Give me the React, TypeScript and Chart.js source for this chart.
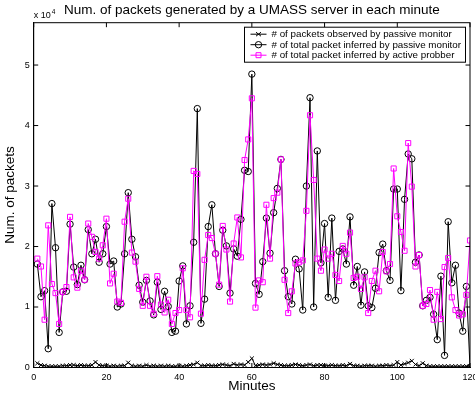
import React, { useEffect, useRef } from "react";
import { Chart, registerables } from "chart.js";

Chart.register(...registerables);

const TITLE = "Num. of packets generated by a UMASS server in each minute";
const X_TITLE = "Minutes";
const Y_TITLE = "Num. of packets";
const LABELS = [
  "# of packets observed by passive monitor",
  "# of total packet inferred by passive monitor",
  "# of total packet inferred by active probber",
];

const minutes = [
  1, 2, 3, 4, 5, 6, 7, 8, 9, 10, 11, 12, 13, 14, 15, 16, 17, 18, 19, 20,
  21, 22, 23, 24, 25, 26, 27, 28, 29, 30, 31, 32, 33, 34, 35, 36, 37, 38, 39, 40,
  41, 42, 43, 44, 45, 46, 47, 48, 49, 50, 51, 52, 53, 54, 55, 56, 57, 58, 59, 60,
  61, 62, 63, 64, 65, 66, 67, 68, 69, 70, 71, 72, 73, 74, 75, 76, 77, 78, 79, 80,
  81, 82, 83, 84, 85, 86, 87, 88, 89, 90, 91, 92, 93, 94, 95, 96, 97, 98, 99, 100,
  101, 102, 103, 104, 105, 106, 107, 108, 109, 110, 111, 112, 113, 114, 115, 116, 117, 118, 119, 120,
];

// values in units of 10^4 packets
const observedPassive = [
  0.07, 0.04, 0.03, 0.02, 0.02, 0.02, 0.02, 0.03, 0.03, 0.04, 0.04, 0.03, 0.04, 0.03, 0.03, 0.04, 0.09, 0.04, 0.03, 0.03,
  0.02, 0.03, 0.02, 0.03, 0.03, 0.08, 0.03, 0.02, 0.03, 0.02, 0.04, 0.02, 0.03, 0.02, 0.03, 0.02, 0.03, 0.02, 0.02, 0.03,
  0.02, 0.03, 0.04, 0.05, 0.08, 0.03, 0.03, 0.04, 0.03, 0.03, 0.04, 0.05, 0.04, 0.03, 0.06, 0.04, 0.05, 0.04, 0.09, 0.15,
  0.03, 0.04, 0.05, 0.04, 0.05, 0.07, 0.05, 0.04, 0.03, 0.03, 0.04, 0.05, 0.04, 0.03, 0.04, 0.05, 0.03, 0.04, 0.04, 0.03,
  0.03, 0.04, 0.03, 0.03, 0.04, 0.03, 0.06, 0.03, 0.03, 0.02, 0.03, 0.03, 0.03, 0.02, 0.03, 0.03, 0.04, 0.03, 0.04, 0.09,
  0.04, 0.06, 0.08, 0.11, 0.05, 0.03, 0.07, 0.03, 0.02, 0.02, 0.02, 0.02, 0.02, 0.02, 0.02, 0.02, 0.02, 0.02, 0.02, 0.01,
];

const inferredPassive = [
  1.71, 1.17, 1.27, 0.31, 2.71, 1.98, 0.58, 1.25, 1.26, 2.37, 1.66, 1.37, 1.69, 1.45, 2.28, 1.88, 2.12, 1.74, 1.88, 2.33,
  1.71, 1.76, 1.0, 1.05, 1.88, 2.89, 2.12, 1.83, 1.36, 1.08, 1.44, 1.1, 0.87, 1.41, 0.96, 1.26, 1.01, 0.58, 0.6, 1.43,
  1.68, 0.72, 1.02, 2.07, 4.28, 0.73, 1.13, 2.33, 2.69, 1.88, 1.34, 2.27, 2.01, 1.23, 1.96, 1.84, 2.45, 3.26, 3.24, 4.85,
  1.39, 1.21, 1.75, 2.47, 1.89, 2.56, 2.96, 3.44, 1.6, 1.17, 1.05, 1.79, 1.63, 0.95, 3.0, 4.46, 1.0, 3.58, 1.73, 2.38,
  1.16, 2.47, 1.11, 1.92, 1.96, 1.71, 2.49, 1.36, 1.67, 1.03, 1.58, 1.02, 0.99, 1.31, 1.9, 2.04, 1.6, 1.44, 2.95, 2.95,
  1.27, 2.78, 3.53, 3.45, 1.74, 1.86, 1.02, 1.11, 1.16, 0.88, 0.46, 1.51, 0.2, 2.41, 1.4, 1.69, 0.9, 0.6, 1.34, 0.0,
];

const inferredActive = [
  1.8, 1.67, 0.79, 2.35, 1.38, 1.23, 0.72, 1.25, 1.33, 2.49, 1.49, 1.32, 1.6, 1.45, 2.38, 2.16, 1.91, 1.8, 2.02, 2.46,
  1.39, 1.55, 1.09, 1.07, 2.41, 2.79, 1.9, 1.75, 1.3, 1.02, 1.5, 1.02, 0.89, 1.51, 1.04, 0.91, 1.12, 0.72, 0.9, 0.95,
  1.64, 0.95, 0.83, 3.25, 3.2, 0.89, 1.78, 2.19, 2.14, 1.88, 1.37, 2.34, 1.95, 1.09, 2.05, 2.48, 1.82, 3.43, 3.77, 4.45,
  0.99, 1.44, 1.41, 2.69, 1.8, 2.8, 2.89, 3.44, 1.45, 0.9, 1.26, 1.72, 1.74, 1.77, 2.59, 4.17, 3.1, 1.8, 1.6, 1.95,
  1.8, 1.88, 1.53, 1.43, 2.01, 1.88, 2.23, 1.48, 1.5, 1.3, 1.49, 0.9, 1.43, 1.6, 1.26, 1.91, 1.59, 1.71, 3.29, 2.5,
  2.24, 1.93, 3.71, 2.99, 1.67, 1.86, 1.02, 1.05, 1.28, 0.79, 1.25, 0.8, 1.66, 1.81, 1.16, 0.95, 0.86, 0.88, 1.2, 2.1,
];

const xTicks = [0, 20, 40, 60, 80, 100, 120];
const yTicks = [0, 1, 2, 3, 4, 5];

const FONT = "'Liberation Sans', Arial, Helvetica, sans-serif";
const MAGENTA = "#ff00ff";

function drawMarker(ctx: CanvasRenderingContext2D, style: string, x: number, y: number, color: string) {
  ctx.save();
  ctx.strokeStyle = color;
  ctx.lineWidth = 1;
  ctx.beginPath();
  if (style === "circle") {
    ctx.arc(x, y, 3.2, 0, Math.PI * 2);
  } else if (style === "rect") {
    ctx.rect(x - 2.5, y - 2.5, 5, 5);
  } else {
    ctx.moveTo(x - 2.5, y - 2);
    ctx.lineTo(x + 2.5, y + 2);
    ctx.moveTo(x - 2.5, y + 2);
    ctx.lineTo(x + 2.5, y - 2);
  }
  ctx.stroke();
  ctx.restore();
}

const matlabPlugin = {
  id: "matlabFrame",
  afterDatasetsDraw(chart: any) {
    const { ctx, chartArea, scales } = chart;
    const { left, right, top, bottom } = chartArea;
    ctx.save();
    ctx.strokeStyle = "#000";
    ctx.lineWidth = 1;
    ctx.strokeRect(left, top, right - left, bottom - top);
    const tl = 4.5;
    ctx.beginPath();
    scales.x.ticks.forEach((t: any) => {
      const px = scales.x.getPixelForValue(t.value);
      ctx.moveTo(px, bottom);
      ctx.lineTo(px, bottom - tl);
      ctx.moveTo(px, top);
      ctx.lineTo(px, top + tl);
    });
    scales.y.ticks.forEach((t: any) => {
      const py = scales.y.getPixelForValue(t.value);
      ctx.moveTo(left, py);
      ctx.lineTo(left + tl, py);
      ctx.moveTo(right, py);
      ctx.lineTo(right - tl, py);
    });
    ctx.stroke();

    ctx.fillStyle = "#000";
    ctx.textBaseline = "alphabetic";
    ctx.textAlign = "left";
    ctx.font = `9px ${FONT}`;
    ctx.fillText("x 10", left, top - 4.5);
    const w = ctx.measureText("x 10").width;
    ctx.font = `6.5px ${FONT}`;
    ctx.fillText("4", left + w + 1, top - 8.5);

    const bw = 221;
    const bh = 35;
    const bx = right - 4.5 - bw;
    const by = top + 4.5;
    ctx.fillStyle = "#fff";
    ctx.fillRect(bx, by, bw, bh);
    ctx.strokeRect(bx, by, bw, bh);
    const styles = ["crossRot", "circle", "rect"];
    chart.data.datasets.forEach((ds: any, i: number) => {
      const ly = by + 7 + i * 10.5;
      ctx.beginPath();
      ctx.strokeStyle = ds.borderColor;
      ctx.moveTo(bx + 6, ly);
      ctx.lineTo(bx + 22, ly);
      ctx.stroke();
      drawMarker(ctx, styles[i], bx + 14, ly, ds.borderColor);
      ctx.fillStyle = "#000";
      ctx.font = `9.8px ${FONT}`;
      ctx.textBaseline = "middle";
      ctx.fillText(ds.label, bx + 27, ly + 0.5);
    });
    ctx.restore();
  },
};

export default function App() {
  const ref = useRef<HTMLCanvasElement | null>(null);
  useEffect(() => {
    if (!ref.current) return;
    const toPts = (arr: number[]) => arr.map((v, i) => ({ x: minutes[i], y: v }));
    const chart = new Chart(ref.current, {
      type: "line",
      data: {
        datasets: [
          {
            label: LABELS[0],
            data: toPts(observedPassive),
            borderColor: "#000",
            backgroundColor: "rgba(0,0,0,0)",
            borderWidth: 1,
            pointStyle: "crossRot",
            pointRadius: 2.8,
            pointBorderWidth: 1,
            pointBorderColor: "#000",
            tension: 0,
            order: 2,
          },
          {
            label: LABELS[1],
            data: toPts(inferredPassive),
            borderColor: "#000",
            backgroundColor: "rgba(0,0,0,0)",
            borderWidth: 1,
            pointStyle: "circle",
            pointRadius: 3.2,
            pointBorderWidth: 1,
            pointBorderColor: "#000",
            pointBackgroundColor: "rgba(0,0,0,0)",
            tension: 0,
            order: 1,
          },
          {
            label: LABELS[2],
            data: toPts(inferredActive),
            borderColor: MAGENTA,
            backgroundColor: "rgba(0,0,0,0)",
            borderWidth: 1,
            pointStyle: "rect",
            pointRadius: 3.6,
            pointBorderWidth: 1,
            pointBorderColor: MAGENTA,
            pointBackgroundColor: "rgba(0,0,0,0)",
            tension: 0,
            order: 0,
          },
        ],
      },
      options: {
        responsive: false,
        animation: false,
        events: [],
        layout: { padding: { left: 0, right: 3.3, top: 0, bottom: 0 } },
        plugins: {
          legend: { display: false },
          tooltip: { enabled: false },
          title: {
            display: true,
            text: TITLE,
            fullSize: false,
            color: "#000",
            font: { family: FONT, size: 13.5, weight: "normal" },
            padding: { top: 2.5, bottom: 4 },
          },
        },
        scales: {
          x: {
            type: "linear",
            min: 0,
            max: 120,
            afterBuildTicks: (s: any) => {
              s.ticks = xTicks.map((v) => ({ value: v }));
            },
            ticks: { color: "#000", font: { family: FONT, size: 9 }, padding: 5, maxRotation: 0, autoSkip: false },
            grid: { display: false, drawTicks: false },
            border: { display: true, color: "#000" },
            title: {
              display: true,
              text: X_TITLE,
              color: "#000",
              font: { family: FONT, size: 13.5 },
              padding: { top: 0, bottom: 1.5 },
            },
            afterFit: (s: any) => {
              s.height = 28.5;
              s.paddingLeft = 0;
              s.paddingRight = 0;
            },
          },
          y: {
            type: "linear",
            min: 0,
            max: 5.7,
            afterBuildTicks: (s: any) => {
              s.ticks = yTicks.map((v) => ({ value: v }));
            },
            ticks: { color: "#000", font: { family: FONT, size: 9 }, padding: 4 },
            grid: { display: false, drawTicks: false },
            border: { display: true, color: "#000" },
            title: {
              display: true,
              text: Y_TITLE,
              color: "#000",
              font: { family: FONT, size: 13.5 },
              padding: { top: 2, bottom: 0 },
            },
            afterFit: (s: any) => {
              s.width = 33.7;
              s.paddingTop = 0;
              s.paddingBottom = 0;
            },
          },
        },
      },
      plugins: [matlabPlugin],
    } as any);
    return () => chart.destroy();
  }, []);
  return (
    <div style={{ position: "absolute", left: 0, top: 0, width: 475, height: 396, background: "#fff" }}>
      <canvas ref={ref} width={475} height={396} style={{ display: "block" }} />
    </div>
  );
}
